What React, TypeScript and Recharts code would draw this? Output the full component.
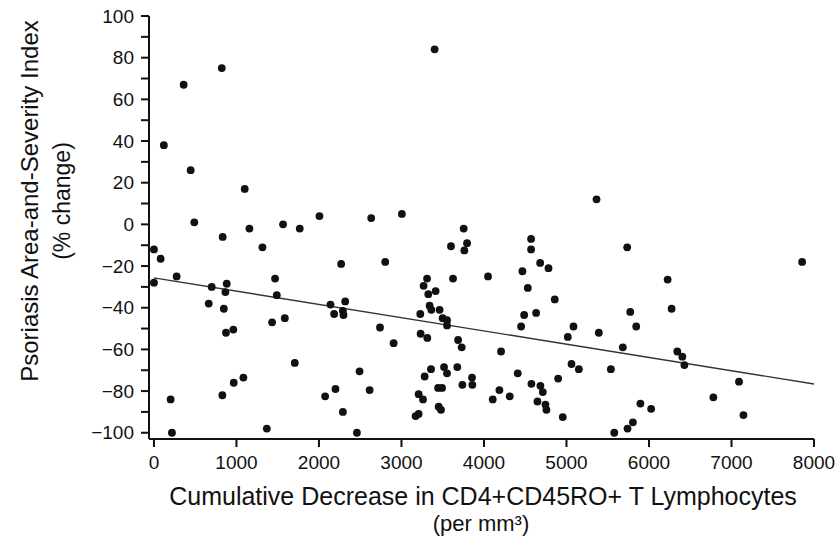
import React from 'react';
import { ScatterChart, Scatter, XAxis, YAxis, ReferenceLine, Label } from 'recharts';

// cumulative decrease in CD4+CD45RO+ T cells (per mm3)
const lymphocyteDecrease = [
  120, 360, 822, 445, 1100, 3402, 489, 1157, 1565, 1767, 2006, 2633, 3005, 3754, 5364,
  0, 81, 0, 275, 833, 1315, 2269, 2803, 3795, 3600, 3762,
  700, 882, 866, 664, 847, 873, 962, 1468, 1489, 1432, 1586, 1707,
  202, 218, 829, 967, 1084, 1368,
  2140, 2184, 2318, 2290, 2297, 2075, 2200, 2290, 2460, 2492, 2614, 2740, 2905,
  3310, 3268, 3414, 3325, 3625, 3341, 3362, 3228, 3462, 3499, 3552, 3552, 3232, 3313,
  3686, 3730, 3516, 3358, 3552, 3677, 3281, 3855, 3738, 3859, 3444, 3492, 3208, 3261,
  3451, 3479, 3171, 3208,
  4571, 4571, 4681, 4782, 4466, 4049, 4531, 4858, 4487, 4632, 4450, 5085, 5016, 5392,
  5736, 6226, 6274, 5773, 5845, 5683, 7856, 6343, 6404, 6429, 7091, 6780, 7145,
  4207, 4409, 5061, 5150, 5538, 4899, 4575, 4684, 4713, 4187, 4106, 4312, 4648, 4745,
  4757, 4955, 5896, 6026, 5579, 5740, 5805,
];

// PASI % change
const pasiChange = [
  38, 67, 75, 26, 17, 84, 1, -2, 0, -2, 4, 3, 5, -2, 12,
  -12, -16.5, -28, -25, -6, -11, -19, -18, -9, -10.5, -12.5,
  -30, -28.5, -32.5, -38, -40.5, -52, -50.5, -26, -34, -47, -45, -66.5,
  -84, -100, -82, -76, -73.5, -98,
  -38.5, -43, -37, -41.5, -43.5, -82.5, -79, -90, -100, -70.5, -79.5, -49.5, -57,
  -26, -29.5, -32, -33.5, -26, -39, -41, -43, -41, -45, -46, -48.5, -52.5, -54.5,
  -55.5, -59, -68.5, -69.5, -71.5, -68.5, -73, -73.5, -77, -77, -78.5, -78.5, -81.5, -84,
  -87.5, -89, -92, -91,
  -7, -12, -18.5, -21, -22.5, -25, -30.5, -36, -43.5, -42.5, -49, -49, -54, -52,
  -11, -26.5, -40.5, -42, -49, -59, -18, -61, -63.5, -67.5, -75.5, -83, -91.5,
  -61, -71.5, -67, -69.5, -69.5, -74, -76.5, -77.5, -80.5, -79.5, -84, -82.5, -85, -86.5,
  -89, -92.5, -86, -88.5, -100, -98, -95,
];

const xTicks = [0, 1000, 2000, 3000, 4000, 5000, 6000, 7000, 8000];
const yTicks = [-100, -90, -80, -70, -60, -50, -40, -30, -20, -10, 0, 10, 20, 30, 40, 50, 60, 70, 80, 90, 100];

// least-squares line, read at both ends
const fitX = [0, 8000];
const fitY = [-25.7, -76.6];

const points = lymphocyteDecrease.map((x, i) => ({ x, y: pasiChange[i] }));

const FONT = '"Liberation Sans", Arial, Helvetica, sans-serif';
const INK = '#111';

function formatY(v: number) {
  if (v % 20 !== 0) return '';
  return v < 0 ? `\u2212${Math.abs(v)}` : String(v);
}

function Dot(props: any) {
  const { cx, cy } = props;
  if (cx == null || cy == null) return null;
  return <circle cx={cx} cy={cy} r={3.9} fill={INK} />;
}

function YTitle() {
  return (
    <g fontFamily={FONT} fill={INK}>
      <text transform="translate(38,201) rotate(-90)" fontSize={24} textAnchor="middle">
        Psoriasis Area-and-Severity Index
      </text>
      <text transform="translate(70,201) rotate(-90)" fontSize={23} textAnchor="middle">
        (% change)
      </text>
    </g>
  );
}

function XTitle() {
  return (
    <g fontFamily={FONT} fill={INK}>
      <text x={483} y={505} fontSize={25} textAnchor="middle">
        Cumulative Decrease in CD4+CD45RO+ T Lymphocytes
      </text>
      <text x={481} y={531} fontSize={22} textAnchor="middle">
        (per mm³)
      </text>
    </g>
  );
}

export default function App() {
  return (
    <div style={{ position: 'fixed', top: 0, left: 0, width: 840, height: 539, background: '#fff' }}>
      <ScatterChart width={840} height={539} margin={{ top: 16, right: 26, bottom: 40, left: 0 }}>
        <XAxis
          type="number"
          dataKey="x"
          domain={[-60, 8000]}
          ticks={xTicks}
          height={60}
          tickSize={8}
          tickMargin={9}
          axisLine={{ stroke: INK, strokeWidth: 2 }}
          tickLine={{ stroke: INK, strokeWidth: 2 }}
          tick={{ fill: INK, fontSize: 19, fontFamily: FONT }}
          allowDataOverflow
        >
          <Label content={() => <XTitle />} />
        </XAxis>
        <YAxis
          type="number"
          dataKey="y"
          domain={[-103, 100]}
          ticks={yTicks}
          interval={0}
          width={149}
          tickSize={8}
          tickMargin={7}
          tickFormatter={formatY}
          axisLine={{ stroke: INK, strokeWidth: 2 }}
          tickLine={{ stroke: INK, strokeWidth: 2 }}
          tick={{ fill: INK, fontSize: 19, fontFamily: FONT }}
          allowDataOverflow
        >
          <Label content={() => <YTitle />} />
        </YAxis>
        <ReferenceLine
          segment={[
            { x: fitX[0], y: fitY[0] },
            { x: fitX[1], y: fitY[1] },
          ]}
          stroke="#333"
          strokeWidth={1.4}
          ifOverflow="visible"
        />
        <Scatter data={points} shape={(p: any) => <Dot {...p} />} isAnimationActive={false} />
      </ScatterChart>
    </div>
  );
}
